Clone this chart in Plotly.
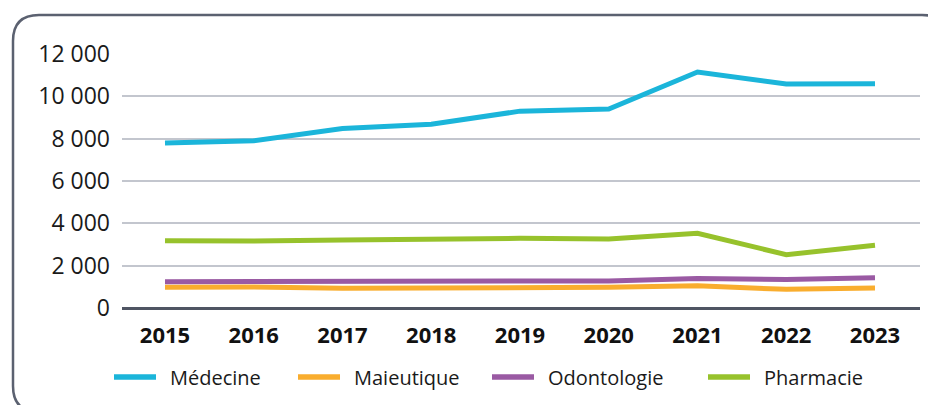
import plotly.graph_objects as go

years = [2015, 2016, 2017, 2018, 2019, 2020, 2021, 2022, 2023]
medecine = [7800, 7900, 8480, 8680, 9300, 9400, 11150, 10580, 10600]
maieutique = [980, 990, 930, 930, 960, 980, 1050, 880, 950]
odontologie = [1240, 1240, 1240, 1240, 1260, 1280, 1390, 1350, 1430]
pharmacie = [3180, 3160, 3210, 3240, 3290, 3260, 3530, 2520, 2960]
y_ticks = [0, 2000, 4000, 6000, 8000, 10000, 12000]
y_labels = ["0", "2 000", "4 000", "6 000", "8 000", "10 000", "12 000"]

series = [
    ("Médecine", medecine, "#1bb5da"),
    ("Maieutique", maieutique, "#f9ad2e"),
    ("Odontologie", odontologie, "#9a5aa3"),
    ("Pharmacie", pharmacie, "#97c22c"),
]

# page body has an 8px margin; work in reference pixel coordinates
OFF = 8
W, H = 936 - OFF, 405 - OFF
ML, MT = 122 - OFF, 54 - OFF
MR = W - (920 - OFF)
MB = H - (308 - OFF)
PW = W - ML - MR
PH = H - MT - MB

fig = go.Figure()
for name, vals, col in series:
    fig.add_trace(go.Scatter(x=years, y=vals, name=name, mode="lines",
                             line=dict(color=col, width=5), showlegend=False))


def px2paper(px, py):
    return ((px - OFF) - ML) / PW, (H - MB - (py - OFF)) / PH


def P(x, y):
    a, b = px2paper(x, y)
    return f"{a:.5f},{b:.5f}"


# rounded border box
L, T, R, B, r = 13, 15, 948, 412, 26
path = (f"M {P(L, T + r)} Q {P(L, T)} {P(L + r, T)} L {P(R - r, T)} Q {P(R, T)} {P(R, T + r)} "
        f"L {P(R, B - r)} Q {P(R, B)} {P(R - r, B)} L {P(L + r, B)} Q {P(L, B)} {P(L, B - r)} Z")
fig.add_shape(type="path", path=path, xref="paper", yref="paper",
              line=dict(color="#5b6170", width=2.5), fillcolor="rgba(0,0,0,0)", layer="below")

# legend drawn manually to match spacing
leg_line_x = [114, 298, 492, 708]
leg_y = 377
for (name, _, col), lx in zip(series, leg_line_x):
    xa, ya = px2paper(lx, leg_y)
    xb, _ = px2paper(lx + 42, leg_y)
    fig.add_shape(type="line", xref="paper", yref="paper", x0=xa, x1=xb, y0=ya, y1=ya,
                  line=dict(color=col, width=5.5))
    xt, _ = px2paper(lx + 54, leg_y)
    fig.add_annotation(text=name, xref="paper", yref="paper", x=xt, y=ya,
                       xanchor="left", yanchor="middle", showarrow=False,
                       font=dict(size=20, family="Open Sans", color="#1a1a1a"))

x0 = 2015 - 43 / 88.75
x1 = 2015 + (920 - 165) / 88.75

fig.update_layout(
    width=W, height=H,
    margin=dict(l=ML, r=MR, t=MT, b=MB),
    paper_bgcolor="white", plot_bgcolor="white",
    font=dict(family="Open Sans", color="#1a1a1a"),
    xaxis=dict(range=[x0, x1], tickvals=years, ticktext=[str(y) for y in years],
               showgrid=False, zeroline=False, showline=False, ticks="",
               tickfont=dict(size=22, family="Open Sans", weight="bold", color="#111"),
               ticklabelstandoff=12),
    yaxis=dict(range=[0, 12000], tickvals=y_ticks, ticktext=y_labels,
               showgrid=True, gridcolor="#c3c6ce", gridwidth=1.5,
               zeroline=True, zerolinecolor="#4f5563", zerolinewidth=2.5,
               showline=False, ticks="", tickfont=dict(size=23, color="#1a1a1a"),
               ticklabelstandoff=11),
    showlegend=False,
)

fig.write_html("out.html")
